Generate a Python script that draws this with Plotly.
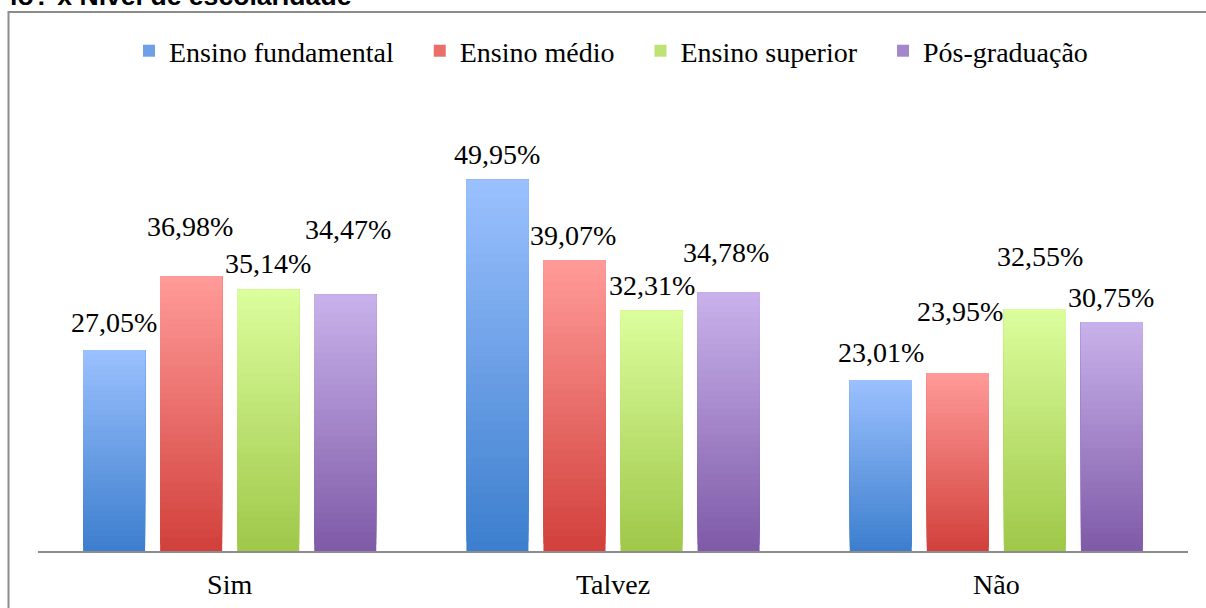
import plotly.graph_objects as go

# ---- data -------------------------------------------------------------
categories = ["Sim", "Talvez", "Não"]
series_names = ["Ensino fundamental", "Ensino médio", "Ensino superior", "Pós-graduação"]
ensino_fundamental = [27.05, 49.95, 23.01]
ensino_medio = [36.98, 39.07, 23.95]
ensino_superior = [35.14, 32.31, 32.55]
pos_graduacao = [34.47, 34.78, 30.75]
series_values = [ensino_fundamental, ensino_medio, ensino_superior, pos_graduacao]

# ---- style ------------------------------------------------------------
W, H = 1206, 608
ML, MR, MT, MB = 38, 18, 105, 57
Y_MAX = 60
BARGAP, BARGROUPGAP = 0.196, 0.195
FONT = "Liberation Serif"
LEGEND_PAD = "\u00a0\u00a0\u00a0"  # extra room after each legend entry

# gradient end colours per series (bottom, top)
grad = [
    ("#3d7fce", "#9ac0fe"),
    ("#d2413c", "#ff9a98"),
    ("#a0c84a", "#dbfd9c"),
    ("#7f5ba8", "#c8b1ea"),
]
N_STEPS = 40

# label nudges (px) for the value labels: vertical offset of the text centre
# above the bar top, and a small horizontal shift
label_dy = [
    [27, 50, 26, 65],
    [25, 25, 25, 40],
    [27, 61, 53, 25],
]
label_dx = [
    [0, -1, 0, 3],
    [0, -1, 0, -3],
    [0, 2, 5, -1],
]


def hex_to_rgb(h):
    h = h.lstrip("#")
    return tuple(int(h[i:i + 2], 16) for i in (0, 2, 4))


def mix(c0, c1, t):
    a, b = hex_to_rgb(c0), hex_to_rgb(c1)
    r = [round(a[i] + (b[i] - a[i]) * t) for i in range(3)]
    return f"rgb({r[0]},{r[1]},{r[2]})"


fig = go.Figure()

# each bar is painted as a stack of overlapping layers, every layer reaching
# the bar top, so the colour fades from dark at the base to light at the top
for si, (name, vals) in enumerate(zip(series_names, series_values)):
    c_bot, c_top = grad[si]
    for k in range(N_STEPS):
        t = k / (N_STEPS - 1)
        base = [v * k / N_STEPS for v in vals]
        fig.add_trace(go.Bar(
            x=categories,
            y=[v - b for v, b in zip(vals, base)],
            base=base,
            offsetgroup=name,
            name=name + (LEGEND_PAD if si < len(series_names) - 1 else ""),
            legendgroup=name,
            showlegend=(k == N_STEPS // 2),
            marker=dict(color=mix(c_bot, c_top, t), line=dict(width=0)),
            hoverinfo="skip",
        ))

# value labels
plot_w = W - ML - MR
slot_px = plot_w / len(categories) * (1 - BARGAP) / len(series_names)
for ci, cat in enumerate(categories):
    for si, vals in enumerate(series_values):
        v = vals[ci]
        fig.add_annotation(
            x=cat, y=v, xref="x", yref="y",
            text=f"{v:.2f}".replace(".", ",") + "%",
            showarrow=False,
            xanchor="center", yanchor="middle",
            xshift=(si - (len(series_names) - 1) / 2) * slot_px + label_dx[ci][si],
            yshift=label_dy[ci][si],
            font=dict(family=FONT, size=28, color="#000000"),
        )

plot_h = H - MT - MB


def px_x(p):
    return (p - ML) / plot_w


def px_y(p):
    return (H - MB - p) / plot_h


# frame around the chart
fig.add_shape(type="rect", xref="paper", yref="paper",
              x0=px_x(8.5), x1=px_x(W + 20), y0=px_y(H + 20), y1=px_y(12),
              line=dict(color="#8c8c8c", width=2), fillcolor="rgba(0,0,0,0)",
              layer="below")

# heading above the frame
fig.add_annotation(
    xref="paper", yref="paper", x=px_x(8), y=px_y(-3.5),
    xanchor="left", yanchor="middle", showarrow=False,
    text="<b>lo? x Nível de escolaridade</b>",
    font=dict(family="Liberation Sans", size=26.6, color="#000000"),
)

fig.update_layout(
    width=W, height=H,
    margin=dict(l=ML, r=MR, t=MT, b=MB),
    paper_bgcolor="white", plot_bgcolor="white",
    barmode="group", bargap=BARGAP, bargroupgap=BARGROUPGAP,
    font=dict(family=FONT, size=28, color="#000000"),
    showlegend=True,
    legend=dict(
        orientation="h", x=px_x(129), xanchor="left",
        y=px_y(51), yanchor="middle",
        font=dict(family=FONT, size=28, color="#000000"),
        bgcolor="rgba(0,0,0,0)", traceorder="normal",
    ),
    xaxis=dict(
        showline=True, linecolor="#8c8c8c", linewidth=1.5,
        ticks="", showgrid=False, zeroline=False, automargin=False,
        tickfont=dict(family=FONT, size=28, color="#000000"),
        ticklabelstandoff=8,
    ),
    yaxis=dict(range=[0, Y_MAX], visible=False, showgrid=False, zeroline=False,
               automargin=False),
)

fig.write_html("out.html")
